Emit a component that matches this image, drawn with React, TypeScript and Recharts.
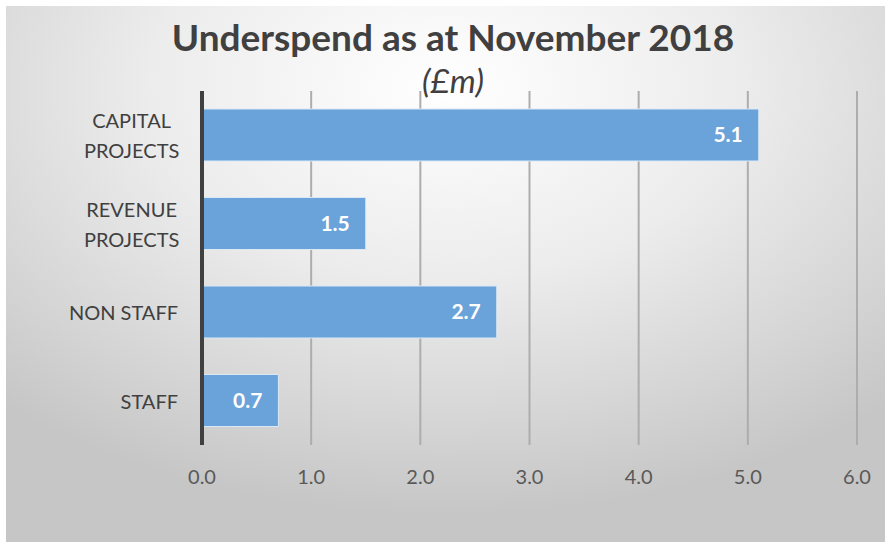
import { BarChart, Bar, XAxis, YAxis, CartesianGrid, LabelList } from 'recharts'

const categories = ['CAPITAL\nPROJECTS', 'REVENUE\nPROJECTS', 'NON STAFF', 'STAFF']
const underspend = [5.1, 1.5, 2.7, 0.7]
const xTicks = [0, 1, 2, 3, 4, 5, 6]

const data = categories.map((name, i) => ({ name, value: underspend[i] }))

const FONT = 'Lato, "Open Sans", sans-serif'

function CategoryTick(props: any) {
  const { x, y, payload } = props
  const lines: string[] = String(payload.value).split('\n')
  const fontSize = 20
  const lineH = 30
  const right = x - 16
  const longest = Math.max(...lines.map((l) => l.length))
  const blockW = longest * fontSize * 0.58
  const startY = y - ((lines.length - 1) * lineH) / 2
  return (
    <text
      fill="#404040"
      fontSize={fontSize}
      fontFamily={FONT}
      textAnchor={lines.length > 1 ? 'middle' : 'end'}
      dominantBaseline="central"
    >
      {lines.map((l, i) => (
        <tspan key={i} x={lines.length > 1 ? right - blockW / 2 : right} y={startY + i * lineH}>
          {l}
        </tspan>
      ))}
    </text>
  )
}

export default function App() {
  return (
    <div style={{ position: 'absolute', left: 0, top: 0, width: 885, height: 542, background: '#fff' }}>
      <div
        style={{
          position: 'absolute',
          left: 6,
          top: 6,
          width: 879,
          height: 536,
          background: 'radial-gradient(ellipse 75% 80% at 50% 15%, #ffffff 0%, #ececec 45%, #d4d4d4 80%, #c6c6c6 100%)',
        }}
      />
      <div
        style={{
          position: 'absolute',
          left: 0,
          top: 14,
          width: 906,
          textAlign: 'center',
          fontFamily: FONT,
          fontWeight: 700,
          fontSize: 37,
          color: '#404040',
        }}
      >
        Underspend as at November 2018
      </div>
      <div
        style={{
          position: 'absolute',
          left: 0,
          top: 60,
          width: 906,
          textAlign: 'center',
          fontFamily: FONT,
          fontStyle: 'italic',
          fontSize: 33,
          color: '#404040',
        }}
      >
        (£m)
      </div>
      <div style={{ position: 'absolute', left: 0, top: 0 }}>
        <BarChart
          width={885}
          height={542}
          data={data}
          layout="vertical"
          barSize={52}
          margin={{ top: 91, right: 28, bottom: 67, left: 0 }}
        >
          <CartesianGrid horizontal={false} stroke="#adadad" strokeWidth={2} />
          <XAxis
            type="number"
            domain={[0, 6]}
            ticks={xTicks}
            tickFormatter={(v: number) => v.toFixed(1)}
            axisLine={false}
            tickLine={false}
            tickMargin={19}
            height={30}
            tick={{ fontSize: 20, fill: '#595959', fontFamily: FONT }}
          />
          <YAxis
            type="category"
            dataKey="name"
            width={202}
            axisLine={{ stroke: '#404040', strokeWidth: 4 }}
            tickLine={false}
            tick={<CategoryTick />}
          />
          <Bar dataKey="value" fill="#6aa3da" stroke="#dbe8f5" strokeWidth={1} isAnimationActive={false}>
            <LabelList
              dataKey="value"
              position="insideRight"
              offset={16}
              formatter={(v: number) => v.toFixed(1)}
              style={{ fill: '#ffffff', fontWeight: 700, fontSize: 21, fontFamily: FONT }}
            />
          </Bar>
        </BarChart>
      </div>
    </div>
  )
}
